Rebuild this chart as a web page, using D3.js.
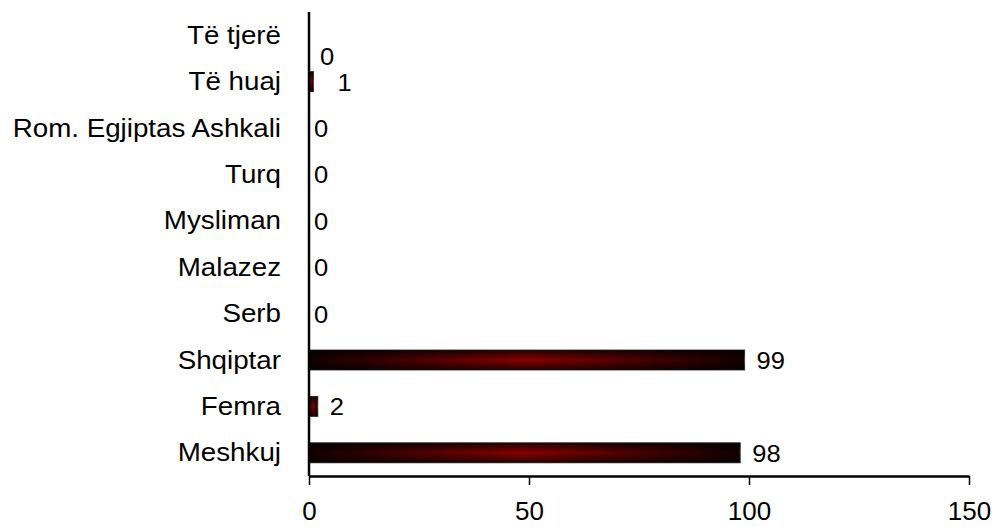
<!DOCTYPE html>
<html>
<head>
<meta charset="utf-8">
<script src="https://cdn.jsdelivr.net/npm/d3@7"></script>
<style>
  body { margin: 0; background: #fff; }
  text { font-family: "Liberation Sans", Arial, sans-serif; fill: #000; }
</style>
</head>
<body>
<div id="chart"></div>
<script>
// categories from top to bottom
const categories = ["Të tjerë", "Të huaj", "Rom. Egjiptas Ashkali", "Turq", "Mysliman",
                    "Malazez", "Serb", "Shqiptar", "Femra", "Meshkuj"];
const values = [0, 1, 0, 0, 0, 0, 0, 99, 2, 98];
const xTicks = [0, 50, 100, 150];

const W = 996, H = 527;
const margin = { top: 12, right: 27, bottom: 51, left: 309 };
const stretch = 1.11; // the original text is a bit wider than Arial

const svg = d3.select("#chart").append("svg")
    .attr("width", W)
    .attr("height", H);

const defs = svg.append("defs");

// dark -> red -> dark along the bar
const hGrad = defs.append("linearGradient")
    .attr("id", "barH")
    .attr("x1", "0%").attr("x2", "100%").attr("y1", "0%").attr("y2", "0%");
hGrad.append("stop").attr("offset", "0%").attr("stop-color", "#120000");
hGrad.append("stop").attr("offset", "50%").attr("stop-color", "#8a0000");
hGrad.append("stop").attr("offset", "100%").attr("stop-color", "#120000");

// darker top and bottom edges
const vGrad = defs.append("linearGradient")
    .attr("id", "barV")
    .attr("x1", "0%").attr("x2", "0%").attr("y1", "0%").attr("y2", "100%");
vGrad.append("stop").attr("offset", "0%").attr("stop-color", "#000").attr("stop-opacity", 0.75);
vGrad.append("stop").attr("offset", "50%").attr("stop-color", "#000").attr("stop-opacity", 0);
vGrad.append("stop").attr("offset", "100%").attr("stop-color", "#000").attr("stop-opacity", 0.75);

const x = d3.scaleLinear()
    .domain([0, 150])
    .range([margin.left, W - margin.right]);

const y = d3.scaleBand()
    .domain(categories)
    .range([margin.top, H - margin.bottom])
    .paddingInner(0.57)
    .paddingOuter(0.285);

const rows = categories.map((c, i) => ({ cat: c, val: values[i] }));

// bars
const bars = svg.append("g");
bars.selectAll(".bar")
    .data(rows.filter(d => d.val > 0))
    .join("rect")
    .attr("class", "bar")
    .attr("x", x(0))
    .attr("y", d => y(d.cat))
    .attr("width", d => x(d.val) - x(0))
    .attr("height", y.bandwidth())
    .style("fill", "url(#barH)")
    .style("stroke", "#444")
    .style("stroke-width", 1);

bars.selectAll(".shade")
    .data(rows.filter(d => d.val > 0))
    .join("rect")
    .attr("class", "shade")
    .attr("x", x(0))
    .attr("y", d => y(d.cat))
    .attr("width", d => x(d.val) - x(0))
    .attr("height", y.bandwidth())
    .style("fill", "url(#barV)");

// category labels
svg.append("g").selectAll("text")
    .data(categories)
    .join("text")
    .attr("transform", d => `translate(${margin.left - 28},${y(d) + y.bandwidth() / 2 + 2}) scale(${stretch},1)`)
    .attr("text-anchor", "end")
    .attr("dominant-baseline", "middle")
    .style("font-size", "25px")
    .text(d => d);

// value labels (Excel pushed the top ones aside a bit)
const nudge = { "Të tjerë": [6, 21], "Të huaj": [12, 0] };
svg.append("g").selectAll("text")
    .data(rows)
    .join("text")
    .attr("transform", d => {
        const nx = x(d.val) + (d.val > 0 ? 12 : 5) + (nudge[d.cat] ? nudge[d.cat][0] : 0);
        const ny = y(d.cat) + y.bandwidth() / 2 + 3 + (nudge[d.cat] ? nudge[d.cat][1] : 0);
        return `translate(${nx},${ny}) scale(${stretch},1)`;
    })
    .attr("dominant-baseline", "middle")
    .style("font-size", "23px")
    .text(d => d.val);

// x axis
const xAxis = svg.append("g")
    .attr("transform", `translate(0,${H - margin.bottom})`)
    .call(d3.axisBottom(x).tickValues(xTicks).tickSize(9).tickSizeOuter(0).tickPadding(17));
xAxis.select(".domain").style("stroke", "#000").style("stroke-width", 2.5);
xAxis.selectAll(".tick line").style("stroke", "#000").style("stroke-width", 1.5);
xAxis.selectAll(".tick text")
    .style("font-family", "'Liberation Sans', Arial, sans-serif")
    .style("font-size", "26px")
    .attr("fill", "#000");

// y axis line
svg.append("line")
    .attr("x1", x(0)).attr("x2", x(0))
    .attr("y1", margin.top).attr("y2", H - margin.bottom)
    .style("stroke", "#000")
    .style("stroke-width", 2.5);
</script>
</body>
</html>
